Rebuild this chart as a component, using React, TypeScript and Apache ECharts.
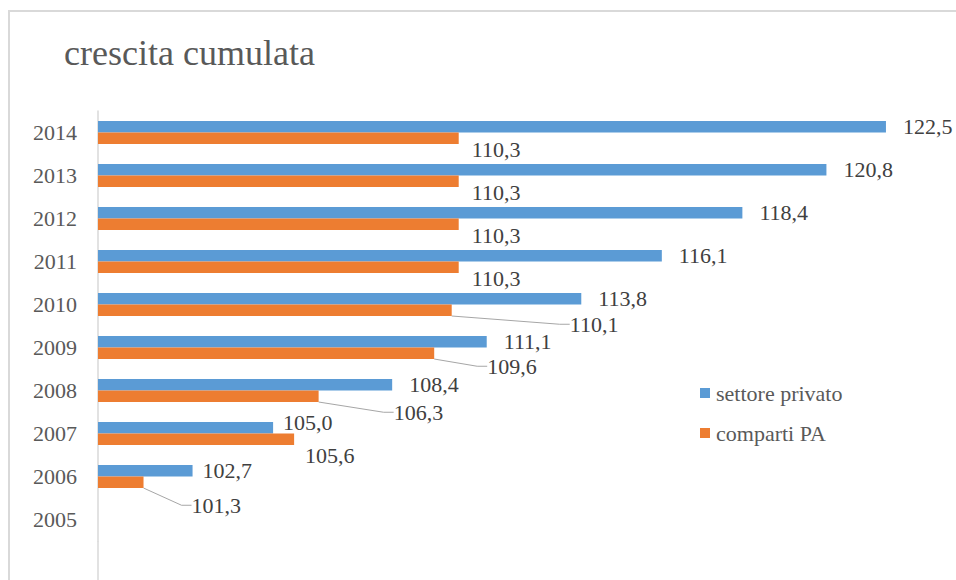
import React, { useEffect, useRef } from "react";
import * as echarts from "echarts";

const years = ["2005", "2006", "2007", "2008", "2009", "2010", "2011", "2012", "2013", "2014"];
const privato = [null, 102.7, 105.0, 108.4, 111.1, 113.8, 116.1, 118.4, 120.8, 122.5];
const comparti = [null, 101.3, 105.6, 106.3, 109.6, 110.1, 110.3, 110.3, 110.3, 110.3];
const seriesNames = ["settore privato", "comparti PA"];
const titleText = "crescita cumulata";

// label layout tweaks (layout only, not data)
const paLabelShift: Record<number, [number, number, boolean]> = {
  1: [48, 23, true],
  2: [11, 16, false],
  3: [75, 16, true],
  4: [53, 13, true],
  5: [118, 14, true],
  6: [13, 11, false],
  7: [13, 11, false],
  8: [13, 11, false],
  9: [13, 11, false],
};
const privLabelTweak: Record<number, { distance: number; dy: number }> = {
  1: { distance: 10, dy: 0 },
  2: { distance: 10, dy: -5 },
};

const fmt = (v: number) => v.toFixed(1).replace(".", ",");
const FONT = "Liberation Serif";

export default function App() {
  const ref = useRef<HTMLDivElement>(null);
  useEffect(() => {
    if (!ref.current) return;
    const chart = echarts.init(ref.current, null, { renderer: "svg" });
    chart.setOption({
      animation: false,
      backgroundColor: "#ffffff",
      textStyle: { fontFamily: FONT },
      title: {
        text: titleText,
        left: 59,
        top: 30,
        textStyle: { fontFamily: FONT, fontSize: 36, fontWeight: "normal", color: "#595959" },
      },
      legend: {
        orient: "vertical",
        left: 695,
        top: 377,
        itemWidth: 10,
        itemHeight: 10,
        itemGap: 18,
        icon: "rect",
        data: seriesNames,
        textStyle: {
          fontFamily: FONT,
          fontSize: 22,
          lineHeight: 20,
          color: "#595959",
          padding: [0, 0, 0, 1],
        },
      },
      grid: { left: 98, right: 0, top: 111, height: 430, containLabel: false },
      xAxis: { type: "value", min: 100, max: 124.5, show: false },
      yAxis: {
        type: "category",
        data: years,
        axisLine: { show: true, lineStyle: { color: "#d9d9d9", width: 1.5 } },
        axisTick: { show: false },
        axisLabel: { margin: 21, fontFamily: FONT, fontSize: 22, color: "#595959" },
      },
      graphic: [
        {
          type: "rect",
          shape: { x: 9, y: 11, width: 1000, height: 1000 },
          style: { fill: "none", stroke: "#d9d9d9", lineWidth: 2 },
          silent: true,
        },
        {
          type: "line",
          shape: { x1: 98, y1: 541, x2: 98, y2: 580 },
          style: { stroke: "#d9d9d9", lineWidth: 1.5 },
          silent: true,
        },
      ],
      series: [
        {
          name: seriesNames[0],
          type: "bar",
          data: privato.map((v, i) => {
            const t = privLabelTweak[i];
            return t
              ? { value: v, label: { distance: t.distance, offset: [0, t.dy] } }
              : { value: v };
          }),
          barWidth: 11.5,
          barGap: "0%",
          itemStyle: { color: "#5b9bd5" },
          label: {
            show: true,
            position: "right",
            distance: 17,
            formatter: (p: any) => fmt(p.value),
            fontFamily: FONT,
            fontSize: 22,
            color: "#404040",
          },
        },
        {
          name: seriesNames[1],
          type: "bar",
          data: comparti.map((v, i) => ({
            value: v,
            labelLine: { show: paLabelShift[i] ? paLabelShift[i][2] : false },
          })),
          barWidth: 11.5,
          barGap: "0%",
          itemStyle: { color: "#ed7d31" },
          label: {
            show: true,
            position: "right",
            distance: 0,
            formatter: (p: any) => fmt(p.value),
            fontFamily: FONT,
            fontSize: 22,
            color: "#404040",
          },
          labelLine: { show: true, length2: 10, lineStyle: { color: "#a6a6a6", width: 1 } },
          labelLayout: (p: any) => {
            const s = paLabelShift[p.dataIndex];
            if (!s) return {};
            return { dx: s[0], dy: s[1] };
          },
        },
      ],
    });
    return () => chart.dispose();
  }, []);
  return (
    <div
      ref={ref}
      style={{ position: "absolute", left: 0, top: 0, width: 956, height: 580, background: "#fff" }}
    />
  );
}
